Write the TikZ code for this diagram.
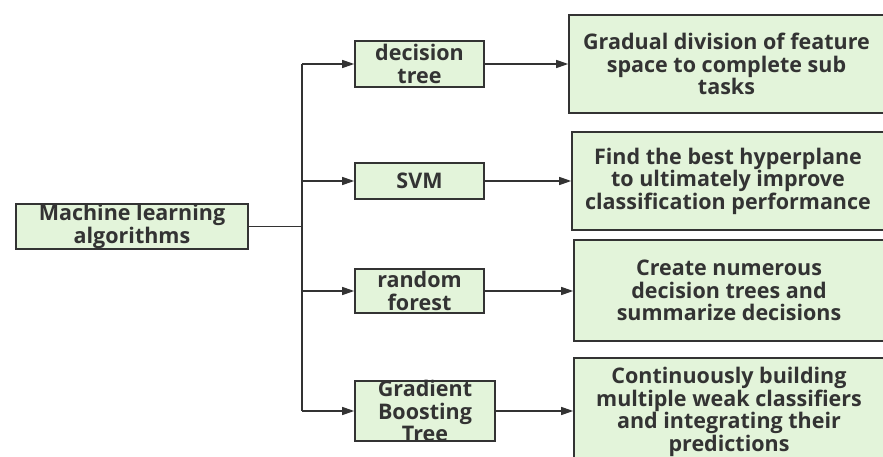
\documentclass[tikz,border=0pt]{standalone}
\usepackage{fontspec}
\setmainfont{Open Sans}
\usetikzlibrary{arrows.meta}
\definecolor{boxgreen}{HTML}{E3F4DA}
\definecolor{ink}{HTML}{333333}
\begin{document}
\begin{tikzpicture}[x=1pt,y=1pt,
  box/.style={draw=ink, fill=boxgreen, line width=1.6pt, inner sep=0pt, anchor=center,
    label={[text=ink, font=\fontsize{21.5}{22.5}\selectfont\bfseries, align=center]center:#1}},
  conn/.style={draw=ink, line width=1.3pt},
  arr/.style={conn, -{Triangle[length=12pt,width=8pt]}}]
\useasboundingbox (0,-457) rectangle (883,0);
\clip (0,-457) rectangle (883,0);
\fill[white] (0,-457) rectangle (883,0);
\node[box={Machine learning\\algorithms}, minimum width=232pt, minimum height=45pt] (ml) at (132,-226.5) {};
\node[box={decision\\tree}, minimum width=129pt, minimum height=46pt] (dt) at (419.5,-64) {};
\node[box={SVM}, minimum width=129pt, minimum height=36pt] (svm) at (419.5,-181) {};
\node[box={random\\forest}, minimum width=129pt, minimum height=44pt] (rf) at (419.5,-291) {};
\node[box={Gradient\\Boosting\\Tree}, minimum width=140pt, minimum height=60pt] (gbt) at (425,-411) {};
\node[box={Gradual division of feature\\space to complete sub\\tasks}, minimum width=315pt, minimum height=98pt] (r1) at (726.5,-64) {};
\node[box={Find the best hyperplane\\to ultimately improve\\classification performance}, minimum width=312pt, minimum height=98pt] (r2) at (728,-181) {};
\node[box={Create numerous\\decision trees and\\summarize decisions}, minimum width=310pt, minimum height=101pt] (r3) at (729,-290.5) {};
\node[box={Continuously building\\multiple weak classifiers\\and integrating their\\predictions}, minimum width=310pt, minimum height=108pt] (r4) at (729,-412) {};
\coordinate (tk) at (302,0);
\draw[conn] (ml.east) -- (ml.east -| tk);
\draw[conn] (dt.west -| tk) -- (gbt.west -| tk);
\foreach \b/\r in {dt/r1, svm/r2, rf/r3, gbt/r4}{
  \draw[arr] (\b.west -| tk) -- (\b.west);
  \draw[arr] (\b.east) -- (\b.east -| \r.west);
}
\end{tikzpicture}
\end{document}
